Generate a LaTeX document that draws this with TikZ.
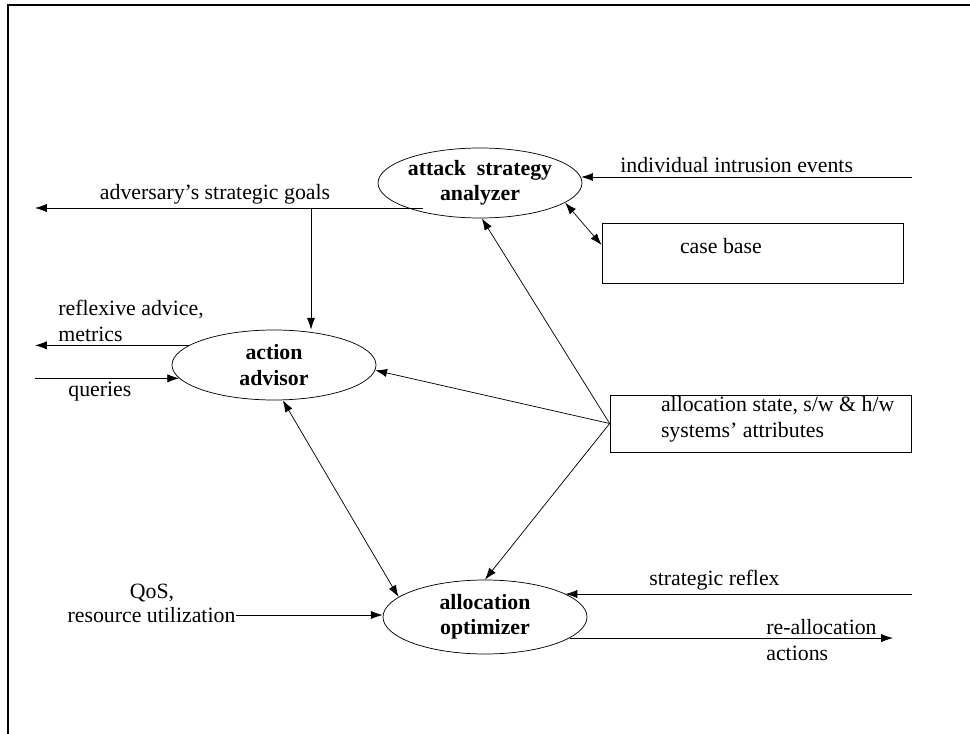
\documentclass[tikz,border=0pt]{standalone}
\usepackage{fontspec}
\setmainfont{Liberation Serif}
\usetikzlibrary{calc,shapes.geometric,arrows.meta}
\tikzset {
  process style/.style = {
    ellipse,
    draw=black,
    thin,
    inner sep=0pt,
    font=\fontsize{12}{14}\selectfont\bfseries,
    align=center
  },
  store style/.style = {
    rectangle,
    draw=black,
    thin,
    inner sep=0pt
  },
  flow/.style = {
    thin,
    -{Latex[length=6.5pt,width=4.5pt]}
  },
  twoflow/.style = {
    thin,
    {Latex[length=6.5pt,width=4.5pt]}-{Latex[length=6.5pt,width=4.5pt]}
  },
  flow label/.style = {
    inner sep=2pt,
    align=left
  }
}

\begin{document}
\begin{tikzpicture}[x=0.55pt,y=-0.55pt,font=\fontsize{12}{14}\selectfont]

\useasboundingbox (0,0) rectangle (970,734);

% --- Frame ---
\draw[line width=1.1pt] (8,734) -- (8,5) -- (970,5);

% --- Processes ---
\node[process style, minimum width=109.45pt, minimum height=38.5pt] (analyzer)  at (480,183) {attack\ \ strategy\\analyzer};
\node[process style, minimum width=112.2pt,  minimum height=38.5pt] (advisor)   at (274,365) {action\\advisor};
\node[process style, minimum width=112.2pt,  minimum height=40.7pt] (optimizer) at (485,617) {allocation\\optimizer};

% --- Stores ---
\node[store style, minimum width=165.55pt, minimum height=33pt]    (casebase)   at (752.5,253) {};
\node[store style, minimum width=165.55pt, minimum height=31.35pt] (allocstate) at (760.5,423.5) {};
\node[anchor=west, inner sep=0pt] (casetext) at ($(casebase.west)+(78,-7)$) {case base};
\node[anchor=west, inner sep=0pt, align=left] (statetext) at ($(allocstate.west)+(51,-4)$)
  {allocation state, s/w \& h/w\\systems' attributes};

% --- Free ends ---
\coordinate (intrusion) at (912,177);
\coordinate (goalsL)    at (35,208);
\coordinate (goalsR)    at (423,208);
\coordinate (goalsBend) at (311,208);
\coordinate (leftEdge)  at (35,0);
\coordinate (reflex)    at (912,594);
\coordinate (realloc)   at (893,0);

% --- Attack strategy analyzer ---
\draw[flow] (intrusion) -- (intrusion -| analyzer.3.5)
  node[flow label, pos=0.53, above] (intrusionlbl) {individual intrusion events};
\draw[flow] (goalsR) -- (goalsL)
  node[flow label, pos=0.536, above] (goalslbl) {adversary's strategic goals};
\draw[flow] (goalsBend) -- (goalsBend |- advisor.north);
\draw[twoflow] (analyzer.-13) -- (casebase.177);

% --- Action advisor ---
\draw[flow] (advisor.167.5) -- (advisor.167.5 -| leftEdge);
\node[flow label, anchor=south west, inner sep=0pt] (advicelbl) at (58,342) {reflexive advice,\\metrics};
\draw[flow] (advisor.188.5 -| leftEdge) -- (advisor.188.5)
  node[flow label, pos=0.45, below] (querieslbl) {queries};

% --- Allocation state ---
\draw[flow] (allocstate.west) -- (analyzer.-87);
\draw[flow] (allocstate.west) -- (advisor.-3);
\draw[flow] (allocstate.west) -- (optimizer.north);
\draw[twoflow] (advisor.-76) -- (optimizer.167);

% --- Allocation optimizer ---
\node[inner sep=0pt] (qoslbl)  at (152,593) {QoS,};
\node[inner sep=0pt] (resutil) at (151.5,615) {resource utilization};
\draw[flow] (resutil.east) -- (resutil.east -| optimizer.west);
\draw[flow] (reflex) -- (reflex -| optimizer.16)
  node[flow label, pos=0.57, above] (reflexlbl) {strategic reflex};
\draw[flow] (optimizer.-14) -- (optimizer.-14 -| realloc);
\node[flow label, anchor=west, inner sep=0pt] (realloclbl) at (766,640) {re-allocation\\actions};

\end{tikzpicture}
\end{document}
